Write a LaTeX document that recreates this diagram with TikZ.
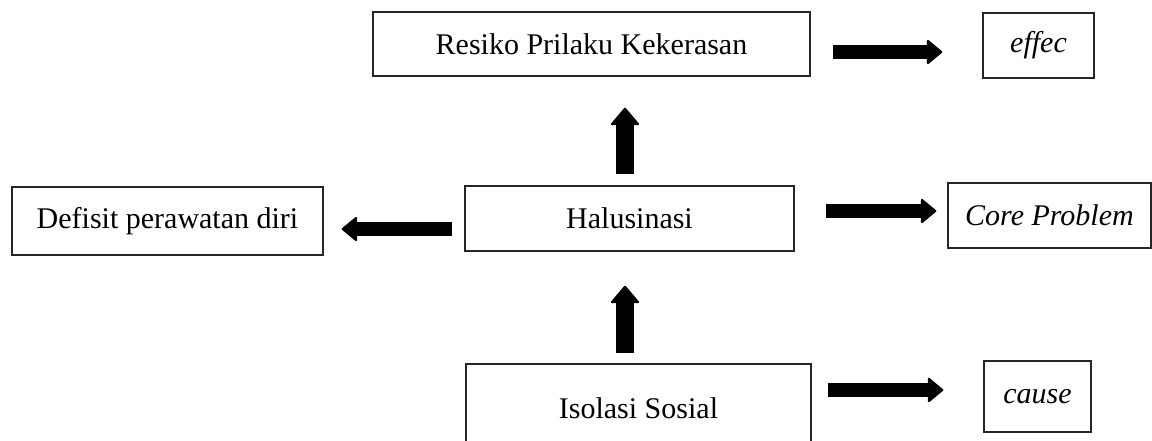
\documentclass[tikz,border=0pt]{standalone}
\usepackage{fontspec}
\setmainfont{Liberation Serif}
\usetikzlibrary{arrows.meta}
\begin{document}
\begin{tikzpicture}[x=1pt,y=-1pt,
  box/.style={draw=black!85, line width=1.3pt, inner sep=0pt, align=center,
    font=\fontsize{30}{36}\selectfont},
  harr/.style={line width=14pt, -{Triangle[length=16pt,width=26pt,round,line width=2pt]}},
  varr/.style={line width=18pt, -{Triangle[length=18pt,width=30pt,round,line width=2pt]}}]
\useasboundingbox (0,0) rectangle (1152,440);
\node[box, minimum width=437pt, minimum height=64pt] (res) at (591.5,44) {Resiko Prilaku Kekerasan};
\node[box, minimum width=111pt, minimum height=65pt] (effec) at (1038.5,45.5) {\itshape effec};
\node[box, minimum width=311pt, minimum height=68pt] (def) at (167.5,221) {Defisit perawatan diri};
\node[box, minimum width=329pt, minimum height=65pt] (halu) at (629.5,218.5) {Halusinasi};
\node[box, minimum width=203pt, minimum height=65pt] (core) at (1049.5,215.5) {\itshape Core Problem};
\node[box, minimum width=345pt, minimum height=88pt] (iso) at (638.5,408) {Isolasi Sosial};
\node[box, minimum width=107pt, minimum height=71pt] (cause) at (1037.5,396.5) {\itshape cause};
% vertical arrows
\coordinate (a1s) at ([xshift=-4.5pt]halu.north);
\draw[varr, shorten <=11pt, shorten >=31pt] (a1s) -- (a1s |- res.south);
\coordinate (a2s) at ([xshift=-13.5pt]iso.north);
\draw[varr, shorten <=10pt, shorten >=34pt] (a2s) -- (a2s |- halu.south);
% horizontal arrows
\coordinate (a3s) at ([yshift=-8pt]res.east);
\draw[harr, shorten <=22pt, shorten >=40pt] (a3s) -- (a3s -| effec.west);
\coordinate (a4s) at ([yshift=7.5pt]halu.east);
\draw[harr, shorten <=31pt, shorten >=11pt] (a4s) -- (a4s -| core.west);
\coordinate (a5s) at ([yshift=-10.5pt]halu.west);
\draw[harr, shorten <=12pt, shorten >=18pt] (a5s) -- (a5s -| def.east);
\coordinate (a6s) at ([yshift=18pt]iso.east);
\draw[harr, shorten <=16pt, shorten >=40pt] (a6s) -- (a6s -| cause.west);
\end{tikzpicture}
\end{document}
